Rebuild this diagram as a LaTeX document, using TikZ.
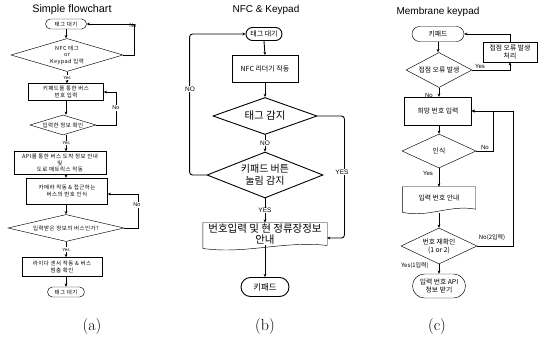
\documentclass[tikz,border=0pt]{standalone}
\usepackage{fontspec}
\usepackage{tikz}
\usetikzlibrary{calc, shapes.geometric, shapes.misc, arrows.meta}
\newfontfamily\krfont{Noto Sans CJK KR}
\newfontfamily\krwide[LetterSpace=8]{Noto Sans CJK KR}
\newfontfamily\arialfont{Liberation Sans}
\newcommand{\docoutline}[1]{%
        \draw (#1.north west) -- (#1.north east) -- (#1.south east)
                .. controls ($(#1.south east)!0.35!(#1.south west)+(0,5pt)$) and ($(#1.south east)!0.65!(#1.south west)+(0,-9pt)$) .. ([yshift=-3pt]#1.south west) -- cycle;}
\tikzset{
        term/.style={draw, rounded rectangle, inner sep=1pt, align=center},
        proc/.style={draw, rectangle, inner sep=1pt, align=center},
        dec/.style={draw, diamond, inner sep=0pt, align=center},
        docnode/.style={rectangle, inner sep=1pt, align=center},
        arr/.style={-{Stealth[length=3.2pt,width=2.8pt]}},
        lbl/.style={inner sep=0.6pt},
        ka/.style={font=\krwide\fontsize{5.5}{6.5}\selectfont},
        kb/.style={font=\krfont\fontsize{7}{8.5}\selectfont},
        kc/.style={font=\krfont\fontsize{6.8}{8}\selectfont},
        titlefont/.style={font=\arialfont\fontsize{10}{12}\selectfont},
}
\begin{document}
\begin{tikzpicture}[x=1pt, y=-1pt, line width=0.45pt]
        \useasboundingbox (0,0) rectangle (542,353);
        \node[titlefont, font=\arialfont\fontsize{10.8}{12}\selectfont] (atitle) at (72,10) {Simple flowchart};
        \node[term, ka, minimum width=43pt, minimum height=10pt] (at1) at (66,24) {태그 대기};
        \node[dec, ka, shape aspect=3.4, minimum width=112pt, minimum height=33pt] (ad1) at (67,55) {NFC 태그\\or\\Keypad 입력};
        \node[proc, ka, minimum width=75pt, minimum height=17pt] (ab1) at (66,92) {키패드를 통한 버스\\번호 입력};
        \node[dec, ka, shape aspect=3.3, minimum width=66pt, minimum height=20pt] (ad2) at (63,125) {입력한 정보 확인};
        \node[proc, ka, minimum width=92pt, minimum height=23pt] (ab2) at (60,163) {API를 통한 버스 도착 정보 안내\\및\\도로 매트릭스 작동};
        \node[proc, ka, minimum width=81pt, minimum height=26pt] (ab3) at (67,191) {카메라 작동 \& 접근하는\\버스의 번호 인식};
        \node[dec, ka, shape aspect=4.3, minimum width=116pt, minimum height=27pt] (ad3) at (66,228) {입력받은 정보의 버스인가?};
        \node[proc, ka, minimum width=80pt, minimum height=19pt] (ab4) at (62,267) {라이다 센서 작동 \& 버스\\멈춤 확인};
        \node[term, ka, minimum width=39pt, minimum height=10pt] (at2) at (66,292) {태그 대기};
        \draw[arr] (at1.south) -- (at1.south |- ad1.north);
        \draw[arr] (ad1.south) -- node[lbl, fill=white, font=\arialfont\fontsize{4.5}{5}\selectfont]{Yes} (ad1.south |- ab1.north);
        \draw[arr] (ab1.south) -- (ab1.south |- ad2.north);
        \draw[arr] (ab1.south |- ad2.south) -- node[lbl, fill=white, font=\arialfont\fontsize{4.5}{5}\selectfont]{Yes} (ab1.south |- ab2.north);
        \draw[arr] (ab1.south |- ab2.south) -- (ab1.south |- ab3.north);
        \draw[arr] (ab1.south |- ab3.south) -- (ab1.south |- ad3.north);
        \draw[arr] (ab1.south |- ad3.south) -- node[lbl, fill=white, font=\arialfont\fontsize{4.5}{5}\selectfont]{Yes} (ab1.south |- ab4.north);
        \draw[arr] (ab1.south |- ab4.south) -- (ab1.south |- at2.north);
        \draw[arr] (ad1.east) -- ++(11,0) |- (at1.east);
        \draw[arr] (ad2.east) -- ++(20,0) |- (ab1.east);
        \draw[arr] (ad3.east) -- ++(14,0) |- ([yshift=-3pt]ab3.east);
        \node[lbl, font=\arialfont\fontsize{5.5}{6}\selectfont] (ano1) at (133,26) {No};
        \node[lbl, fill=white, font=\arialfont\fontsize{5.5}{6}\selectfont] (ano2) at (116,108) {No};
        \node[lbl, fill=white, font=\arialfont\fontsize{5.5}{6}\selectfont] (ano3) at (137,205) {No};
        \node[titlefont] (btitle) at (266,10) {NFC \& Keypad};
        \node[term, kb, line width=0.9pt, minimum width=38pt, minimum height=13pt] (bt1) at (264,34) {태그 대기};
        \node[proc, kb, line width=0.9pt, minimum width=66pt, minimum height=27pt] (bb1) at (265,69) {NFC 리더기 작동};
        \node[dec, line width=0.9pt, font=\krfont\fontsize{10.5}{12}\selectfont, shape aspect=2.8, minimum width=104pt, minimum height=37pt] (bd1) at (265,116) {태그 감지};
        \node[dec, line width=0.9pt, font=\krfont\fontsize{10}{11.5}\selectfont, shape aspect=2.5, minimum width=116pt, minimum height=46pt] (bd2) at (265,175) {키패드 버튼\\눌림 감지};
        \node[docnode, font=\krfont\fontsize{10.5}{11}\selectfont, minimum width=124pt, minimum height=22pt] (bdoc) at (265,234) {번호입력 및 현 정류장정보\\안내};
        \docoutline{bdoc}
        \node[term, line width=0.9pt, font=\krfont\fontsize{8.5}{10}\selectfont, minimum width=50pt, minimum height=19pt] (bt2) at (265,287) {키패드};
        \begin{scope}[line width=0.9pt]
        \draw[arr] (bt1.south) -- (bb1.north);
        \draw[arr] (bb1.south) -- (bd1.north);
        \draw[arr] (bd1.south) -- node[lbl, fill=white, font=\arialfont\fontsize{6.5}{7}\selectfont]{NO} (bd2.north);
        \draw[arr] (bd2.south) -- node[lbl, fill=white, font=\arialfont\fontsize{6.5}{7}\selectfont]{YES} (bdoc.north);
        \draw[arr] (bdoc.south) -- (bt2.north);
        \draw[arr, rounded corners=3pt] (bd2.west) -- ++(-17,0) |- (bt1.west);
        \draw[arr, rounded corners=3pt] (bd1.east) -- ++(27,0) |- ([yshift=-4pt]bdoc.east);
        \end{scope}
        \node[lbl, fill=white, font=\arialfont\fontsize{6.5}{7}\selectfont] (bno) at (190,89) {NO};
        \node[lbl, fill=white, font=\arialfont\fontsize{6.5}{7}\selectfont] (byes) at (342,172) {YES};
        \node[titlefont] (ctitle) at (438,12) {Membrane keypad};
        \node[term, kc, minimum width=54pt, minimum height=15pt] (ct1) at (438,34) {키패드};
        \node[dec, kc, shape aspect=1.9, minimum width=66pt, minimum height=35pt] (cd1) at (439,70) {접점 오류 발생};
        \node[proc, kc, minimum width=54pt, minimum height=20pt] (cb1) at (510,52) {접점 오류 발생\\처리};
        \node[proc, kc, minimum width=67pt, minimum height=28pt] (cb2) at (438,111) {희망 번호 입력};
        \node[dec, kc, shape aspect=2.2, minimum width=74pt, minimum height=34pt] (cd2) at (439,151) {인식};
        \node[docnode, kc, minimum width=73pt, minimum height=22pt] (cdoc) at (439,198) {입력 번호 안내};
        \docoutline{cdoc}
        \node[dec, kc, shape aspect=2.1, minimum width=76pt, minimum height=36pt] (cd3) at (439,246) {번호 재확인\\(1 or 2)};
        \node[term, kc, minimum width=55pt, minimum height=24pt] (ct2) at (439,286) {입력 번호 API\\정보 받기};
        \draw[arr] (ct1.south) -- (ct1.south |- cd1.north);
        \draw[arr] (cd1.south) -- (cd1.south |- cb2.north);
        \draw[arr] (cd2.south |- cb2.south) -- (cd2.north);
        \draw[arr] (cd2.south) -- (cdoc.north);
        \draw[arr] ([yshift=-4pt]cdoc.south) -- (cd3.north);
        \draw[arr] (cd3.south) -- (ct2.north);
        \draw[arr] (cd1.east) -| (cb1.south);
        \draw[arr] (cb1.north) |- (ct1.east);
        \draw[arr] (cd2.east) -- ++(17,0) |- (cb2.east);
        \draw[arr] (cd3.east) -- ++(36,0) |- (cb2.east);
        \node[lbl, font=\arialfont\fontsize{6}{7}\selectfont] (cyes1) at (480,66) {Yes};
        \node[lbl, font=\arialfont\fontsize{6}{7}\selectfont] (cno1) at (429,95) {No};
        \node[lbl, font=\arialfont\fontsize{6}{7}\selectfont] (cno2) at (485,147) {No};
        \node[lbl, font=\arialfont\fontsize{6}{7}\selectfont] (cyes2) at (428,173) {Yes};
        \node[lbl, font=\krfont\fontsize{6}{7}\selectfont] (cno3) at (492,238) {No(2입력)};
        \node[lbl, font=\krfont\fontsize{6}{7}\selectfont] (cyes3) at (415,266) {Yes(1입력)};
        \node[font=\fontsize{16}{18}\selectfont] (capa) at (92,327) {(a)};
        \node[font=\fontsize{16}{18}\selectfont] (capb) at (265,327) {(b)};
        \node[font=\fontsize{16}{18}\selectfont] (capc) at (437,327) {(c)};
\end{tikzpicture}
\end{document}
